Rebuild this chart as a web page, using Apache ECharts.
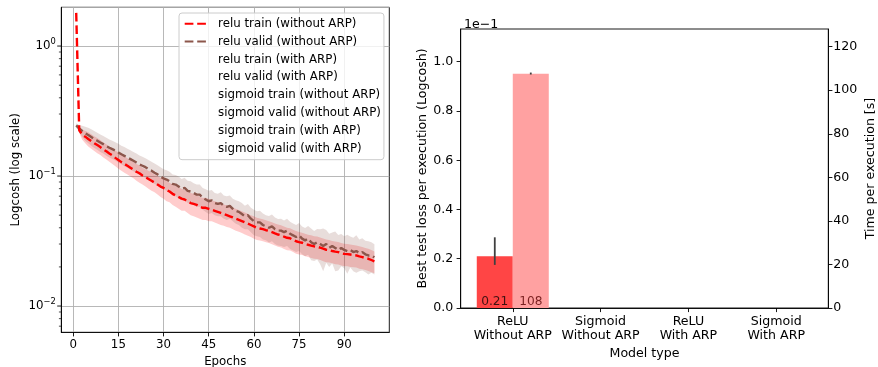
<!DOCTYPE html>
<html>
<head>
<meta charset="utf-8">
<script src="https://cdn.jsdelivr.net/npm/echarts@6/dist/echarts.min.js"></script>
<style>
  html, body { margin: 0; padding: 0; background: #fff; }
  #chart { width: 878px; height: 367px; }
</style>
</head>
<body>
<div id="chart"></div>
<script>
// ---- left plot: loss per epoch (mean and std over runs) ----
const trainMean = [
  1.80, 0.225, 0.208, 0.201, 0.193, 0.186, 0.179, 0.173, 0.167, 0.160,
  0.155, 0.149, 0.144, 0.138, 0.133, 0.128, 0.124, 0.120, 0.116, 0.112,
  0.108, 0.105, 0.101, 0.098, 0.095, 0.092, 0.089, 0.086, 0.083, 0.081,
  0.078, 0.076, 0.073, 0.071, 0.069, 0.067, 0.066, 0.064, 0.062, 0.061,
  0.060, 0.058, 0.057, 0.057, 0.056, 0.055, 0.054, 0.053, 0.052, 0.051,
  0.050, 0.049, 0.048, 0.047, 0.046, 0.045, 0.044, 0.043, 0.042, 0.041,
  0.040, 0.0395, 0.039, 0.0383, 0.0378, 0.037, 0.0362, 0.0355, 0.035, 0.0342,
  0.0335, 0.0332, 0.0323, 0.0315, 0.031, 0.0307, 0.0301, 0.0296, 0.0292, 0.0288,
  0.0286, 0.0281, 0.0276, 0.0271, 0.0269, 0.0265, 0.0262, 0.026, 0.0255, 0.0252,
  0.0251, 0.0249, 0.0247, 0.0245, 0.0241, 0.0238, 0.0234, 0.0231, 0.0226, 0.0221
];
const validMean = [
  0.245, 0.232, 0.222, 0.213, 0.207, 0.200, 0.193, 0.187, 0.181, 0.176,
  0.170, 0.165, 0.161, 0.157, 0.152, 0.147, 0.143, 0.139, 0.135, 0.131,
  0.127, 0.123, 0.120, 0.117, 0.113, 0.110, 0.106, 0.103, 0.099, 0.096,
  0.094, 0.091, 0.087, 0.086, 0.083, 0.080, 0.081, 0.077, 0.076, 0.074,
  0.072, 0.072, 0.068, 0.066, 0.064, 0.065, 0.062, 0.061, 0.062, 0.059,
  0.058, 0.059, 0.056, 0.054, 0.053, 0.051, 0.049, 0.050, 0.047, 0.045,
  0.044, 0.044, 0.042, 0.041, 0.040, 0.041, 0.039, 0.038, 0.038, 0.037,
  0.038, 0.036, 0.035, 0.034, 0.035, 0.033, 0.032, 0.033, 0.031, 0.030,
  0.031, 0.030, 0.029, 0.030, 0.028, 0.029, 0.028, 0.027, 0.028, 0.027,
  0.0265, 0.027, 0.026, 0.0265, 0.0255, 0.026, 0.025, 0.0245, 0.0245, 0.0237
];
const trainStd = [
  0.03, 0.01, 0.018, 0.022, 0.024, 0.024, 0.023, 0.023, 0.022, 0.021,
  0.021, 0.020, 0.020, 0.019, 0.019, 0.018, 0.018, 0.017, 0.017, 0.016,
  0.016, 0.016, 0.015, 0.015, 0.015, 0.015, 0.014, 0.014, 0.014, 0.014,
  0.014, 0.013, 0.013, 0.013, 0.013, 0.013, 0.012, 0.012, 0.012, 0.012,
  0.012, 0.011, 0.011, 0.011, 0.011, 0.010, 0.010, 0.010, 0.010, 0.0095,
  0.0095, 0.009, 0.009, 0.009, 0.0088, 0.0085, 0.0085, 0.0082, 0.008, 0.008,
  0.0078, 0.0076, 0.0075, 0.0074, 0.0072, 0.0071, 0.007, 0.0069, 0.0068, 0.0067,
  0.0066, 0.0065, 0.0063, 0.0062, 0.0061, 0.006, 0.0059, 0.0058, 0.0058, 0.0057,
  0.0056, 0.0055, 0.0055, 0.0054, 0.0053, 0.0052, 0.0052, 0.0051, 0.005, 0.005,
  0.0049, 0.0049, 0.0048, 0.0047, 0.0047, 0.0046, 0.0045, 0.0045, 0.0044, 0.0042
];
const validStd = [
  0.01, 0.015, 0.022, 0.026, 0.028, 0.029, 0.029, 0.028, 0.028, 0.027,
  0.027, 0.026, 0.026, 0.025, 0.025, 0.024, 0.024, 0.023, 0.023, 0.022,
  0.022, 0.021, 0.021, 0.020, 0.020, 0.019, 0.019, 0.018, 0.018, 0.017,
  0.017, 0.017, 0.016, 0.016, 0.016, 0.015, 0.016, 0.015, 0.015, 0.014,
  0.014, 0.014, 0.013, 0.013, 0.013, 0.013, 0.012, 0.012, 0.013, 0.012,
  0.012, 0.012, 0.011, 0.011, 0.011, 0.011, 0.010, 0.011, 0.010, 0.010,
  0.0095, 0.010, 0.0095, 0.009, 0.0092, 0.0095, 0.009, 0.0088, 0.009, 0.0085,
  0.009, 0.0085, 0.0082, 0.008, 0.0085, 0.008, 0.0078, 0.0082, 0.0085, 0.0078,
  0.0082, 0.009, 0.0105, 0.0085, 0.008, 0.0078, 0.0095, 0.0082, 0.0078, 0.0075,
  0.0088, 0.0072, 0.0075, 0.0085, 0.007, 0.0072, 0.0068, 0.007, 0.0065, 0.0062
];
const epochs = trainMean.map((_, i) => i + 1);
const legendNames = [
  'relu train (without ARP)', 'relu valid (without ARP)',
  'relu train (with ARP)', 'relu valid (with ARP)',
  'sigmoid train (without ARP)', 'sigmoid valid (without ARP)',
  'sigmoid train (with ARP)', 'sigmoid valid (with ARP)'
];
const epochTicks = [0, 15, 30, 45, 60, 75, 90];
const logMajorTicks = [0.01, 0.1, 1];
const logMinorTicks = [0.007, 0.008, 0.009, 0.02, 0.03, 0.04, 0.05, 0.06, 0.07, 0.08, 0.09,
  0.2, 0.3, 0.4, 0.5, 0.6, 0.7, 0.8, 0.9];

// ---- right plot: best loss and time per model type ----
const categories = ['ReLU\nWithout ARP', 'Sigmoid\nWithout ARP', 'ReLU\nWith ARP', 'Sigmoid\nWith ARP'];
const lossBest = [0.21, null, null, null];
const lossLow = [0.175, null, null, null];
const lossHigh = [0.287, null, null, null];
const timeMean = [107.5, null, null, null];
const timeLow = [107.2, null, null, null];
const timeHigh = [108.1, null, null, null];
const lossTicks = [0, 0.2, 0.4, 0.6, 0.8, 1.0];
const timeTicks = [0, 20, 40, 60, 80, 100, 120];

const FONT = 'DejaVu Sans';
const FS = 11.8;   // left plot text
const FS2 = 12.6;  // right plot text
const BAR_W = 36;

function bandRender(mean, std, color) {
    return function (params, api) {
        if (params.dataIndex !== 0) return;
        const up = [], lo = [];
        for (let i = 0; i < epochs.length; i++) {
            up.push(api.coord([epochs[i], mean[i] + std[i]]));
            lo.push(api.coord([epochs[i], mean[i] - std[i]]));
        }
        return {
            type: 'polygon',
            shape: { points: up.concat(lo.reverse()) },
            style: { fill: color }
        };
    };
}

function tickRender(len, width) {
    return function (params, api) {
        const p = api.coord([api.value(0), api.value(1)]);
        return {
            type: 'line',
            shape: { x1: p[0] - len, y1: p[1], x2: p[0], y2: p[1] },
            style: { stroke: '#000', lineWidth: width }
        };
    };
}

function errRender(dx) {
    return function (params, api) {
        const a = api.coord([api.value(0), api.value(1)]);
        const b = api.coord([api.value(0), api.value(2)]);
        return {
            type: 'line',
            shape: { x1: a[0] + dx, y1: a[1], x2: b[0] + dx, y2: b[1] },
            style: { stroke: '#404040', lineWidth: 1.8 }
        };
    };
}

const pow10 = v => {
    const e = Math.round(Math.log10(v));
    return '{b|10}{s|' + String(e).replace('-', '\u2212') + '}';
};

const emptySeries = legendNames.slice(2).map(n => ({
    name: n, type: 'line', xAxisIndex: 0, yAxisIndex: 0, data: [],
    color: 'rgba(0,0,0,0)', showSymbol: false, symbol: 'none'
}));

const axisLine = { show: true, onZero: false, lineStyle: { color: '#000', width: 0.9 } };
const nameStyle = { fontFamily: FONT, fontSize: FS, color: '#000' };
const nameStyle2 = { fontFamily: FONT, fontSize: FS2, color: '#000' };

const chart = echarts.init(document.getElementById('chart'));
chart.setOption({
    animation: false,
    textStyle: { fontFamily: FONT, fontSize: FS, color: '#000' },
    title: {
        text: '1e\u22121', left: 459, top: 13.5,
        textStyle: { fontFamily: FONT, fontSize: FS2, fontWeight: 'normal', color: '#000' }
    },
    legend: {
        data: legendNames,
        orient: 'vertical',
        left: 179, top: 13,
        padding: [4.7, 3, 4.7, 4.7],
        itemWidth: 24, itemHeight: 11.4, itemGap: 5.9,
        selectedMode: false,
        itemStyle: { opacity: 0 },
        backgroundColor: 'rgba(255,255,255,0.8)',
        borderColor: '#cccccc', borderWidth: 1, borderRadius: 3,
        textStyle: { fontFamily: FONT, fontSize: FS, color: '#000', padding: [0, 0, 0, 4.4] }
    },
    grid: [
        { left: 61.3, top: 7.3, right: 488.7, bottom: 34.7, outerBoundsMode: 'none', show: true, borderColor: '#000', borderWidth: 0.9, backgroundColor: 'transparent' },
        { left: 460.7, top: 29, right: 49.7, bottom: 59, outerBoundsMode: 'none', show: true, borderColor: '#000', borderWidth: 0.9, backgroundColor: 'transparent' }
    ],
    xAxis: [
        {
            type: 'value', gridIndex: 0, min: -3.95, max: 104.95,
            name: 'Epochs', nameLocation: 'middle', nameGap: 24, nameTextStyle: nameStyle,
            axisLine: axisLine,
            axisTick: { show: true, length: 4.1, customValues: epochTicks, lineStyle: { color: '#000', width: 0.9 } },
            axisLabel: { customValues: epochTicks, margin: 6.6, color: '#000', fontFamily: FONT, fontSize: FS },
            splitLine: { show: true, lineStyle: { color: '#b0b0b0', width: 0.9 } }
        },
        {
            type: 'value', gridIndex: 1, min: -0.593, max: 3.593,
            name: 'Model type', nameLocation: 'middle', nameGap: 36.5, nameTextStyle: nameStyle2,
            axisLine: axisLine,
            axisTick: { show: true, length: 4.1, customValues: [0, 1, 2, 3], lineStyle: { color: '#000', width: 0.9 } },
            axisLabel: {
                customValues: [0, 1, 2, 3], margin: 6.7, color: '#000', fontFamily: FONT, fontSize: FS2,
                lineHeight: 14, formatter: v => categories[v]
            },
            splitLine: { show: false }
        }
    ],
    yAxis: [
        {
            type: 'log', logBase: 10, gridIndex: 0, min: 0.00628, max: 1.987,
            name: 'Logcosh (log scale)', nameLocation: 'middle', nameGap: 39, nameRotate: 90, nameTextStyle: nameStyle,
            axisLine: axisLine,
            axisTick: { show: false },
            axisLabel: {
                showMinLabel: false, showMaxLabel: false, margin: 5.5,
                formatter: pow10,
                rich: {
                    b: { fontFamily: FONT, fontSize: FS, lineHeight: 16, color: '#000' },
                    s: { fontFamily: FONT, fontSize: 8.3, lineHeight: 9, verticalAlign: 'top', color: '#000' }
                }
            },
            splitLine: { show: true, lineStyle: { color: '#b0b0b0', width: 0.9 } }
        },
        {
            type: 'value', gridIndex: 1, min: 0, max: 1.1328, position: 'left',
            name: 'Best test loss per execution (Logcosh)', nameLocation: 'middle', nameGap: 31.8, nameRotate: 90, nameTextStyle: nameStyle2,
            axisLine: axisLine,
            axisTick: { show: true, length: 4.1, customValues: lossTicks, lineStyle: { color: '#000', width: 0.9 } },
            axisLabel: { customValues: lossTicks, margin: 7.4, formatter: v => v.toFixed(1), color: '#000', fontFamily: FONT, fontSize: FS2 },
            splitLine: { show: false }
        },
        {
            type: 'value', gridIndex: 1, min: 0, max: 128.1, position: 'right',
            name: 'Time per execution [s]', nameLocation: 'middle', nameGap: 36.2, nameRotate: 90, nameTextStyle: nameStyle2,
            axisLine: axisLine,
            axisTick: { show: true, length: 4.1, customValues: timeTicks, lineStyle: { color: '#000', width: 0.9 } },
            axisLabel: { customValues: timeTicks, margin: 5, color: '#000', fontFamily: FONT, fontSize: FS2 },
            splitLine: { show: false }
        }
    ],
    series: [
        {
            type: 'custom', xAxisIndex: 0, yAxisIndex: 0, z: 1, silent: true,
            renderItem: bandRender(trainMean, trainStd, 'rgba(255,0,0,0.2)'),
            data: epochs.map((e, i) => [e, trainMean[i]])
        },
        {
            type: 'custom', xAxisIndex: 0, yAxisIndex: 0, z: 1, silent: true,
            renderItem: bandRender(validMean, validStd, 'rgba(140,86,75,0.2)'),
            data: epochs.map((e, i) => [e, validMean[i]])
        },
        {
            name: legendNames[0], type: 'line', xAxisIndex: 0, yAxisIndex: 0, z: 3,
            data: epochs.map((e, i) => [e, trainMean[i]]),
            showSymbol: false, symbol: 'none', color: '#ff0000',
            lineStyle: { color: '#ff0000', width: 2.4, type: [8.7, 3.8] }
        },
        {
            name: legendNames[1], type: 'line', xAxisIndex: 0, yAxisIndex: 0, z: 2,
            data: epochs.map((e, i) => [e, validMean[i]]),
            showSymbol: false, symbol: 'none', color: '#8c564b',
            lineStyle: { color: '#8c564b', width: 2.4, type: [8.7, 3.8] }
        },
        ...emptySeries,
        {
            type: 'custom', xAxisIndex: 0, yAxisIndex: 0, silent: true, z: 4,
            renderItem: tickRender(4.1, 0.9),
            data: logMajorTicks.map(v => [-3.95, v])
        },
        {
            type: 'custom', xAxisIndex: 0, yAxisIndex: 0, silent: true, z: 4,
            renderItem: tickRender(2.4, 0.7),
            data: logMinorTicks.map(v => [-3.95, v])
        },
        {
            type: 'bar', xAxisIndex: 1, yAxisIndex: 1, barWidth: BAR_W, barGap: '0%',
            data: categories.map((c, i) => [i, lossBest[i]]),
            itemStyle: { color: '#ff4545' },
            label: {
                show: true, position: 'insideBottom', distance: 0, lineHeight: 12,
                color: 'rgba(0,0,0,0.75)', fontFamily: FONT, fontSize: 12.2,
                formatter: p => p.value[1] == null ? '' : p.value[1].toFixed(2)
            }
        },
        {
            type: 'bar', xAxisIndex: 1, yAxisIndex: 2, barWidth: BAR_W, barGap: '0%',
            data: categories.map((c, i) => [i, timeMean[i]]),
            itemStyle: { color: '#ffa1a1' },
            label: {
                show: true, position: 'insideBottom', distance: 0, lineHeight: 12,
                color: 'rgba(90,0,0,0.8)', fontFamily: FONT, fontSize: 12.2,
                formatter: p => p.value[1] == null ? '' : String(Math.round(p.value[1]))
            }
        },
        {
            type: 'custom', xAxisIndex: 1, yAxisIndex: 1, z: 5, silent: true,
            renderItem: errRender(-BAR_W / 2),
            encode: { x: 0, y: [1, 2] },
            data: categories.map((c, i) => [i, lossLow[i], lossHigh[i]]).filter(d => d[1] != null)
        },
        {
            type: 'custom', xAxisIndex: 1, yAxisIndex: 2, z: 5, silent: true,
            renderItem: errRender(BAR_W / 2),
            encode: { x: 0, y: [1, 2] },
            data: categories.map((c, i) => [i, timeLow[i], timeHigh[i]]).filter(d => d[1] != null)
        }
    ]
});
</script>
</body>
</html>
